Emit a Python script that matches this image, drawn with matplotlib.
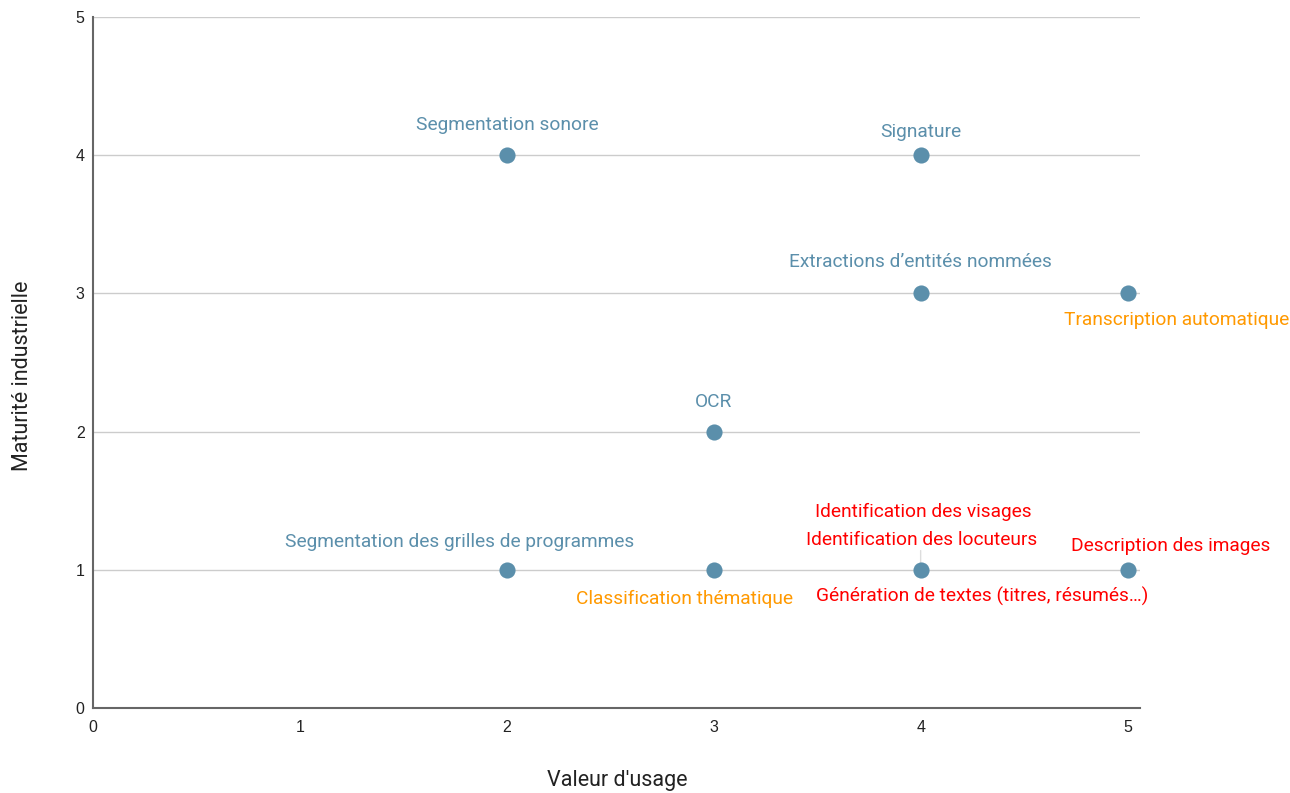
import matplotlib.pyplot as plt

# valeur d'usage (x), maturité industrielle (y)
usage = [2, 4, 4, 5, 3, 2, 3, 4, 5]
maturite = [4, 4, 3, 3, 2, 1, 1, 1, 1]

# labels attached to points: (label, x, y, colour group)
label_text = ['Segmentation sonore', 'Signature', 'Extractions d\u2019entités nommées',
              'Transcription automatique', 'OCR', 'Segmentation des grilles de programmes',
              'Classification thématique', 'Identification des visages',
              'Identification des locuteurs', 'Génération de textes (titres, résumés…)',
              'Description des images']
label_x = [2, 4, 4, 5, 3, 2, 3, 4, 4, 4, 5]
label_y = [4, 4, 3, 3, 2, 1, 1, 1, 1, 1, 1]
label_group = ['bleu', 'bleu', 'bleu', 'orange', 'bleu', 'bleu', 'orange',
               'rouge', 'rouge', 'rouge', 'rouge']

colours = {'bleu': '#5b8fab', 'orange': '#ff9900', 'rouge': '#ff0000'}
# label offsets in pixels from the point
offsets = [(0, 30), (0, 23), (0, 31), (49, -27), (0, 30), (-47, 28), (-29, -29),
           (3, 58), (1, 30), (62, -27), (43, 24)]

fig = plt.figure(figsize=(12.9, 7.93), dpi=100)
ax = fig.add_axes([0.0721, 0.1072, 0.8116, 0.8714])

ax.set_xlim(0, 5.06)
ax.set_ylim(0, 5)
ax.set_xticks(range(6))
ax.set_yticks(range(6))
ax.grid(axis='y', color='#cccccc', linewidth=1)
ax.set_axisbelow(True)
for s in ['top', 'right']:
    ax.spines[s].set_visible(False)
for s in ['left', 'bottom']:
    ax.spines[s].set_color('#666666')
    ax.spines[s].set_linewidth(1.5)
ax.tick_params(length=0, labelsize=11.5, colors='#222222')
ax.tick_params(axis='x', pad=9)
ax.tick_params(axis='y', pad=6)
for t in ax.get_xticklabels() + ax.get_yticklabels():
    t.set_family('Liberation Sans')

# small leader line above the point (4, 1)
ax.annotate('', xy=(4, 1), xytext=(0, 22), textcoords='offset pixels',
            arrowprops=dict(arrowstyle='-', color='#dddddd', lw=1))

ax.scatter(usage, maturite, s=135, color='#5b8fab', zorder=3, linewidths=0)

for txt, x, y, g, off in zip(label_text, label_x, label_y, label_group, offsets):
    ax.annotate(txt, xy=(x, y), xytext=off, textcoords='offset pixels',
                ha='center', va='center', fontsize=13.8, family='Roboto',
                color=colours[g])

ax.set_xlabel("Valeur d'usage", fontsize=15.5, family='Roboto', color='#222222', va='center')
ax.set_ylabel('Maturité industrielle', fontsize=15.5, family='Roboto', color='#222222', va='center')
ax.xaxis.set_label_coords(0.5005, -0.1056)
ax.yaxis.set_label_coords(-0.0678, 0.4805)

fig.savefig('out.png', dpi=100)
